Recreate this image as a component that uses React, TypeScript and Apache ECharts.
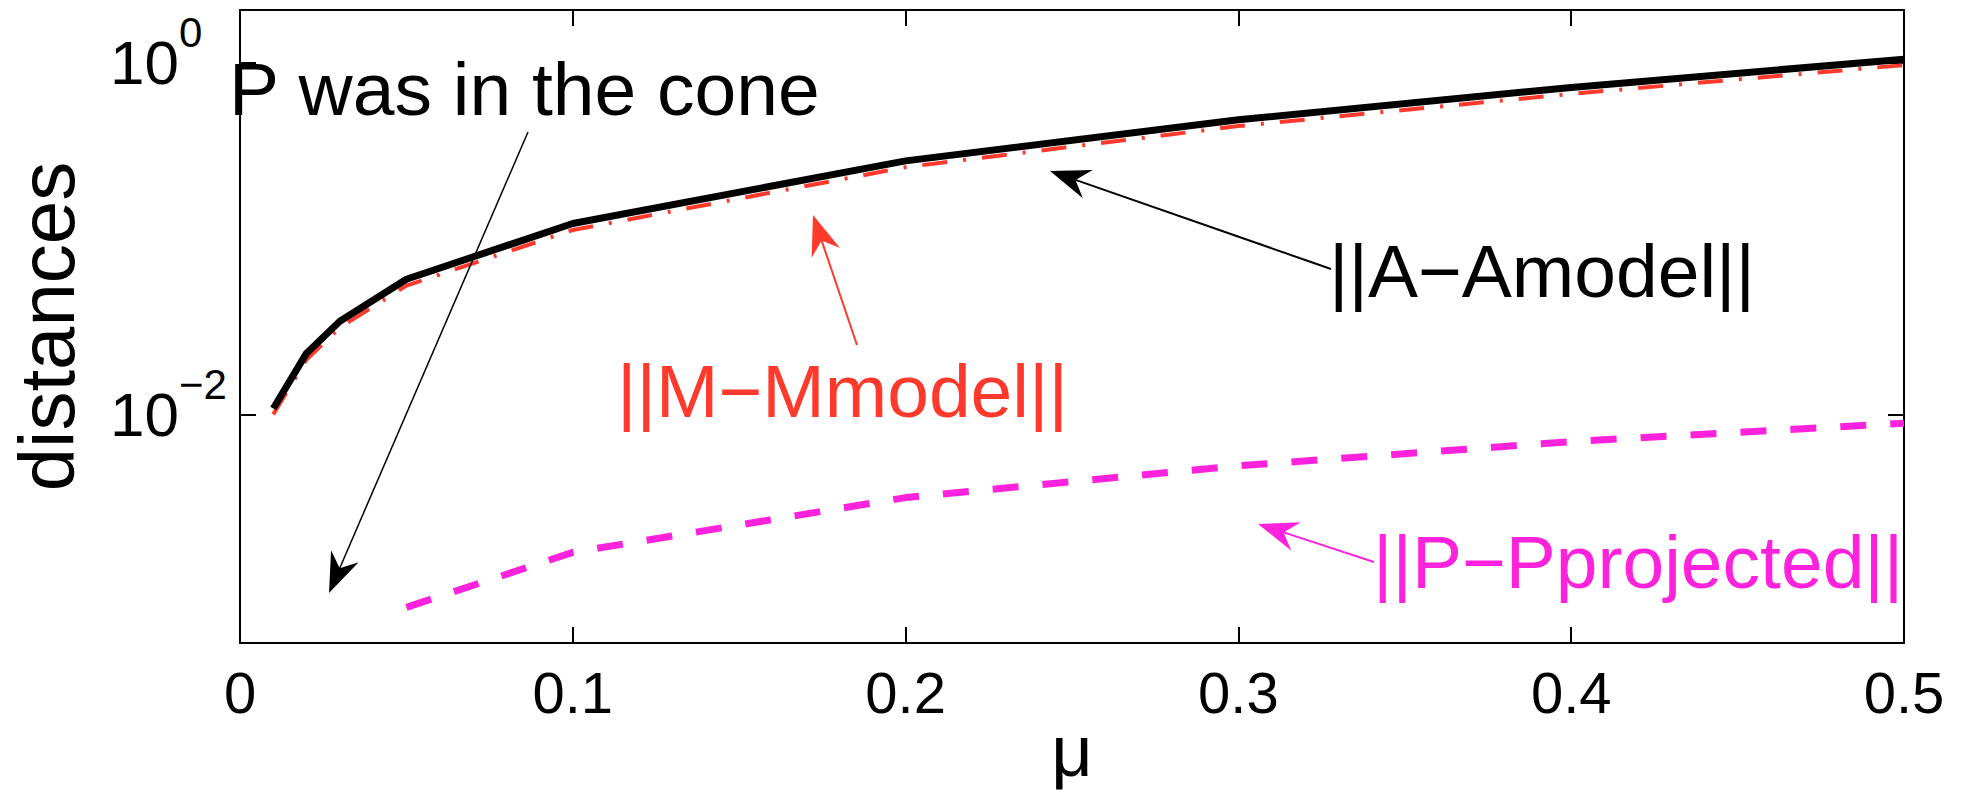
import React, { useEffect, useRef } from 'react';
import * as echarts from 'echarts';

// ---- data ----
const mu = [0.01, 0.02, 0.03, 0.05, 0.1, 0.2, 0.3, 0.4, 0.5];
const distA = [0.0108, 0.0223, 0.0339, 0.0587, 0.122, 0.277, 0.475, 0.725, 1.05];
const distM = [0.01, 0.0205, 0.0312, 0.054, 0.112, 0.255, 0.437, 0.667, 0.972];
const distP = [null, null, null, 0.000798, 0.00164, 0.00336, 0.0051, 0.007, 0.0089];
const xTickValues = [0, 0.1, 0.2, 0.3, 0.4, 0.5];
const yTickExponents = [-2, 0];
const seriesNames = ['||A−Amodel||', '||M−Mmodel||', '||P−Pprojected||'];
const xLabel = 'μ';
const yLabel = 'distances';
const noteText = 'P was in the cone';

const FONT = 'Liberation Sans, Arial, Helvetica, sans-serif';
const BLACK = '#000000';
const RED = '#ff3a2c';
const MAGENTA = '#ff22dd';

type Pt = [number, number];

function arrow(tail: Pt, tip: Pt, color: string, width: number) {
  const dx = tail[0] - tip[0];
  const dy = tail[1] - tip[1];
  const len = Math.hypot(dx, dy);
  const ux = dx / len, uy = dy / len;
  const nx = -uy, ny = ux;
  const L = 40, W = 15, N = 27;
  const b1: Pt = [tip[0] + L * ux + W * nx, tip[1] + L * uy + W * ny];
  const b2: Pt = [tip[0] + L * ux - W * nx, tip[1] + L * uy - W * ny];
  const notch: Pt = [tip[0] + N * ux, tip[1] + N * uy];
  return [
    {
      type: 'line',
      z: 100,
      shape: { x1: tail[0], y1: tail[1], x2: notch[0], y2: notch[1] },
      style: { stroke: color, lineWidth: width },
    },
    {
      type: 'polygon',
      z: 100,
      shape: { points: [tip, b1, notch, b2] },
      style: { fill: color, stroke: null },
    },
  ];
}

function label(text: string, x: number, y: number, color: string, size = 75, align = 'left') {
  return {
    type: 'text',
    z: 100,
    x,
    y,
    style: {
      text,
      fill: color,
      fontSize: size,
      fontFamily: FONT,
      align,
      verticalAlign: 'middle',
      textAlign: align,
      textVerticalAlign: 'middle',
    },
  };
}

function pairs(values: (number | null)[]) {
  const out: [number, number][] = [];
  values.forEach((v, i) => {
    if (v != null) out.push([mu[i], v]);
  });
  return out;
}

export default function App() {
  const ref = useRef<HTMLDivElement>(null);

  useEffect(() => {
    if (!ref.current) return;
    const chart = echarts.init(ref.current, undefined, { renderer: 'svg' });

    const axisLine = { show: true, onZero: false, lineStyle: { color: BLACK, width: 2 } };
    const axisTick = { show: true, inside: true, length: 16, lineStyle: { color: BLACK, width: 2 } };

    const yFormatter = (v: number) => {
      const lg = Math.log10(v);
      const e = Math.round(lg);
      if (Math.abs(lg - e) > 1e-6 || !yTickExponents.includes(e)) return '';
      return '10';
    };

    chart.setOption({
      animation: false,
      backgroundColor: '#ffffff',
      grid: { left: 240, right: 65, top: 10, bottom: 157, containLabel: false, outerBoundsMode: 'none' },
      xAxis: [
        {
          type: 'value',
          position: 'bottom',
          min: xTickValues[0],
          max: xTickValues[xTickValues.length - 1],
          interval: 0.1,
          axisLine,
          axisTick,
          splitLine: { show: false },
          axisLabel: {
            margin: 20,
            color: BLACK,
            fontSize: 58,
            lineHeight: 58,
            fontFamily: FONT,
            formatter: (v: number) => String(v),
          },
          name: xLabel,
          nameLocation: 'middle',
          nameGap: 72,
          nameMoveOverlap: false,
          nameTextStyle: { color: BLACK, fontSize: 72, lineHeight: 72, fontFamily: FONT },
        },
        {
          type: 'value',
          position: 'top',
          min: xTickValues[0],
          max: xTickValues[xTickValues.length - 1],
          interval: 0.1,
          axisLine,
          axisTick,
          splitLine: { show: false },
          axisLabel: { show: false },
        },
      ],
      yAxis: [
        {
          type: 'log',
          logBase: 100,
          position: 'left',
          min: 5e-4,
          max: 2,
          axisLine,
          axisTick,
          splitLine: { show: false },
          minorTick: { show: false },
          axisLabel: {
            margin: 61,
            color: BLACK,
            fontSize: 62,
            lineHeight: 62,
            fontFamily: FONT,
            formatter: yFormatter,
          },
          name: yLabel,
          nameLocation: 'middle',
          nameRotate: 90,
          nameGap: 154,
          nameMoveOverlap: false,
          nameTextStyle: { color: BLACK, fontSize: 78, lineHeight: 78, fontFamily: FONT },
        },
        {
          type: 'log',
          logBase: 100,
          position: 'right',
          min: 5e-4,
          max: 2,
          axisLine,
          axisTick,
          splitLine: { show: false },
          axisLabel: { show: false },
        },
      ],
      series: [
        {
          name: seriesNames[2],
          type: 'line',
          data: pairs(distP),
          showSymbol: false,
          symbol: 'none',
          lineStyle: { color: MAGENTA, width: 7, type: [26, 24] },
        },
        {
          name: seriesNames[1],
          type: 'line',
          data: pairs(distM),
          showSymbol: false,
          symbol: 'none',
          lineStyle: { color: RED, width: 4, type: [25, 16, 3, 16] },
        },
        {
          name: seriesNames[0],
          type: 'line',
          data: pairs(distA),
          showSymbol: false,
          symbol: 'none',
          lineStyle: { color: BLACK, width: 7 },
        },
      ],
    });

    // exponents of the y tick labels, placed through the axis scale
    const exps = yTickExponents.map((e) => {
      const py = chart.convertToPixel({ yAxisIndex: 0 }, Math.pow(10, e)) as number;
      return label(`${e < 0 ? '−' : ''}${Math.abs(e)}`, 179, py - 30, BLACK, 42, 'left');
    });

    chart.setOption({
      graphic: [
        ...exps,
        label(noteText, 229, 89, BLACK),
        ...arrow([528, 132], [329, 593], BLACK, 1.5),
        label(seriesNames[0], 1329, 271, BLACK),
        ...arrow([1331, 269], [1050, 171], BLACK, 2),
        label(seriesNames[1], 617, 391, RED),
        ...arrow([857, 345], [813, 215], RED, 2),
        label(seriesNames[2], 1373, 562, MAGENTA),
        ...arrow([1374, 562], [1258, 524], MAGENTA, 2),
      ],
    });

    return () => chart.dispose();
  }, []);

  return (
    <div
      ref={ref}
      style={{ position: 'absolute', left: 0, top: 0, width: 1969, height: 800, background: '#fff' }}
    />
  );
}
